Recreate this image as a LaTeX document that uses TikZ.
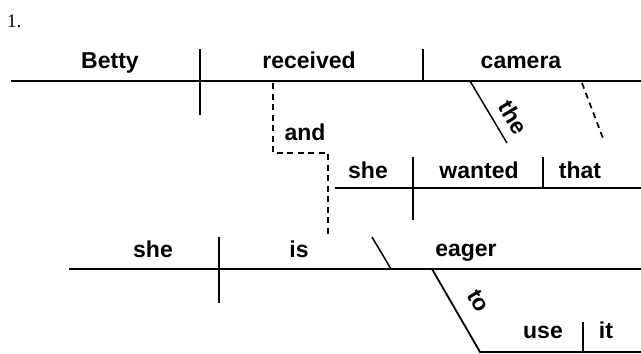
\documentclass[tikz,border=0pt]{standalone}
\usepackage{fontspec}
\setmainfont{Liberation Sans}
\newfontfamily\numfont{Liberation Serif}
\begin{document}
\begin{tikzpicture}[x=1pt,y=-1pt,
  rule/.style={line width=1.8pt},
  divider/.style={line width=1.5pt},
  dashrule/.style={line width=1.7pt,dash pattern=on 6pt off 4.5pt},
  word/.style={inner sep=0pt,anchor=base,font=\fontsize{23}{27}\selectfont\bfseries}]
\useasboundingbox (0,0) rectangle (641,354);
\node[inner sep=0pt,anchor=base west,font=\fontsize{19}{22}\selectfont\numfont] (num) at (7,27) {1.};
% line 1
\coordinate (l1a) at (11,81); \coordinate (l1b) at (641,81);
\coordinate (d1t) at (200,49); \coordinate (d1b) at (200,115);
\coordinate (d2t) at (423,49); \coordinate (d2b) at (423,81);
\coordinate (s1t) at (470,81); \coordinate (s1b) at (507,143);
\coordinate (s2t) at (582,83); \coordinate (s2b) at (604,141);
\draw[rule] (l1a) -- (l1b);
\draw[divider] (d1t) -- (d1b);
\draw[divider] (d2t) -- (d2b);
\draw[divider] (s1t) -- (s1b);
\draw[dashrule] (s2t) -- (s2b);
\node[word] (betty) at (110,68) {Betty};
\node[word] (received) at (309,68) {received};
\node[word] (camera) at (521,68) {camera};
\node[word,anchor=center,rotate=-59] (the) at (513,117) {the};
% and connector
\coordinate (c1) at (273,83); \coordinate (c2) at (273,153);
\coordinate (c3) at (328,153); \coordinate (c4) at (328,238);
\draw[dashrule] (c1) -- (c2) -- (c3) -- (c4);
\node[word] (and) at (305,140) {and};
% line 2
\coordinate (l2a) at (335,188); \coordinate (l2b) at (641,188);
\coordinate (d3t) at (413,157); \coordinate (d3b) at (413,220);
\coordinate (d4t) at (543,157); \coordinate (d4b) at (543,188);
\draw[rule] (l2a) -- (l2b);
\draw[divider] (d3t) -- (d3b);
\draw[divider] (d4t) -- (d4b);
\node[word] (she1) at (368,178) {she};
\node[word] (wanted) at (479,178) {wanted};
\node[word] (that) at (580,178) {that};
% line 3
\coordinate (l3a) at (69,269); \coordinate (l3b) at (641,269);
\coordinate (d5t) at (219,237); \coordinate (d5b) at (219,303);
\coordinate (s3t) at (372,237); \coordinate (s3b) at (391,269);
\draw[rule] (l3a) -- (l3b);
\draw[divider] (d5t) -- (d5b);
\draw[divider] (s3t) -- (s3b);
\node[word] (she2) at (153,257) {she};
\node[word] (is) at (299,257) {is};
\node[word] (eager) at (466,256) {eager};
% line 4
\coordinate (s4t) at (432,269); \coordinate (s4b) at (480,352);
\coordinate (l4b) at (641,352);
\coordinate (d6t) at (583,322); \coordinate (d6b) at (583,352);
\draw[rule] (s4t) -- (s4b) -- (l4b);
\draw[divider] (d6t) -- (d6b);
\node[word,anchor=center,rotate=-60] (to) at (478,301) {to};
\node[word] (use) at (543,338) {use};
\node[word] (it) at (606,338) {it};
\end{tikzpicture}
\end{document}
